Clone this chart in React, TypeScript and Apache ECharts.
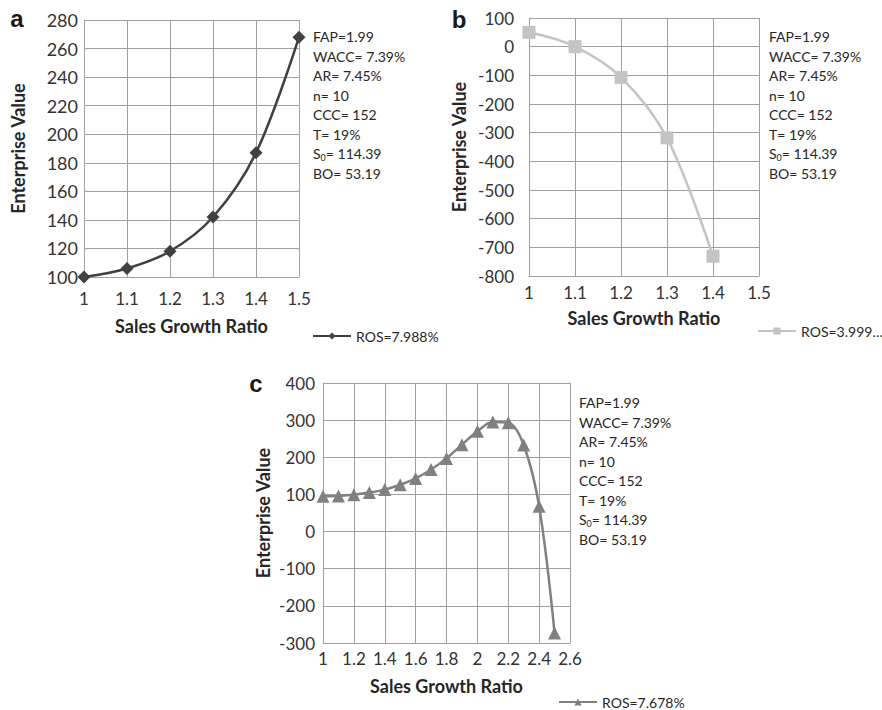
import React, { useEffect, useRef } from "react";
import * as echarts from "echarts";

const xA = [1, 1.1, 1.2, 1.3, 1.4, 1.5];
const evA = [100, 106, 118, 142, 187, 268];
const xB = [1, 1.1, 1.2, 1.3, 1.4];
const evB = [50, 0, -107, -318, -731];
const xC = [1, 1.1, 1.2, 1.3, 1.4, 1.5, 1.6, 1.7, 1.8, 1.9, 2, 2.1, 2.2, 2.3, 2.4, 2.5];
const evC = [95, 96, 99, 105, 113, 126, 143, 167, 197, 234, 270, 295, 293, 233, 68, -273];

const nameA = "ROS=7.988%";
const nameB = "ROS=3.999\u2026";
const nameC = "ROS=7.678%";

const paramText = "FAP=1.99\nWACC= 7.39%\nAR= 7.45%\nn= 10\nCCC= 152\nT= 19%\nS{sub|0}= 114.39\nBO= 53.19";

const FONT = "Lato";
const GRID_COLOR = "#a0a0a0";

function pairs(xs: number[], ys: number[]) {
  return xs.map((x, i) => [x, ys[i]]);
}

function xAxisCfg(gridIndex: number, min: number, max: number, interval: number, margin: number, nameGap: number, fontSize: number) {
  return {
    type: "value",
    gridIndex,
    min,
    max,
    interval,
    name: "Sales Growth Ratio",
    nameLocation: "middle",
    nameGap,
    nameTextStyle: { fontFamily: FONT, fontWeight: "bold", fontSize: 18, color: "#262626" },
    axisLine: { show: true, onZero: false, lineStyle: { color: GRID_COLOR, width: 1 } },
    axisTick: { show: false },
    axisLabel: { fontFamily: FONT, fontSize, color: "#333", margin, hideOverlap: false },
    splitLine: { show: true, lineStyle: { color: GRID_COLOR, width: 1 } },
  };
}

function yAxisCfg(gridIndex: number, min: number, max: number, interval: number, margin: number, nameGap: number, fontSize: number) {
  return {
    type: "value",
    gridIndex,
    min,
    max,
    interval,
    name: "Enterprise Value",
    nameLocation: "middle",
    nameGap,
    nameTextStyle: { fontFamily: FONT, fontWeight: "bold", fontSize: 18, color: "#262626" },
    axisLine: { show: true, onZero: false, lineStyle: { color: GRID_COLOR, width: 1 } },
    axisTick: { show: false },
    axisLabel: { fontFamily: FONT, fontSize, color: "#333", margin, hideOverlap: false },
    splitLine: { show: true, lineStyle: { color: GRID_COLOR, width: 1 } },
  };
}

function paramGraphic(x: number, y: number) {
  return {
    type: "text",
    x,
    y,
    style: {
      text: paramText,
      fontFamily: FONT,
      fontSize: 14,
      lineHeight: 19.5,
      fill: "#262626",
      verticalAlign: "top",
      align: "left",
      rich: {
        sub: { fontFamily: FONT, fontSize: 9, padding: [7, 0, 0, 0], fill: "#262626" },
      },
    },
  };
}

function letter(t: string, x: number, y: number) {
  return {
    type: "text",
    x,
    y,
    style: {
      text: t,
      fontFamily: "Liberation Sans",
      fontWeight: "bold",
      fontSize: 24,
      fill: "#1a1a1a",
      align: "center",
      verticalAlign: "middle",
    },
  };
}

function legendCfg(name: string, left: number, top: number) {
  return {
    data: [name],
    left,
    top,
    padding: 0,
    itemWidth: 38,
    itemHeight: 9,
    textStyle: { fontFamily: FONT, fontSize: 14, color: "#262626" },
    selectedMode: false,
  };
}

export default function App() {
  const ref = useRef<HTMLDivElement>(null);
  useEffect(() => {
    if (!ref.current) return;
    const chart = echarts.init(ref.current, undefined, { renderer: "svg" });
    chart.setOption({
      animation: false,
      backgroundColor: "#ffffff",
      grid: [
        { left: 84, top: 20, width: 215, height: 257 },
        { left: 529, top: 18, width: 230, height: 258 },
        { left: 323, top: 383, width: 247, height: 260 },
      ],
      xAxis: [
        xAxisCfg(0, 1, 1.5, 0.1, 13, 40, 17),
        xAxisCfg(1, 1, 1.5, 0.1, 8, 33, 17),
        xAxisCfg(2, 1, 2.6, 0.2, 7, 34, 17),
      ],
      yAxis: [
        yAxisCfg(0, 100, 280, 20, 6, 57, 18),
        yAxisCfg(1, -800, 100, 100, 15, 61, 17),
        yAxisCfg(2, -300, 400, 100, 8, 51, 17),
      ],
      legend: [
        legendCfg(nameA, 312, 329),
        legendCfg(nameB, 757, 324),
        legendCfg(nameC, 558, 695),
      ],
      series: [
        {
          type: "line",
          name: nameA,
          xAxisIndex: 0,
          yAxisIndex: 0,
          data: pairs(xA, evA),
          smooth: 0.35,
          clip: false,
          symbol: "diamond",
          symbolSize: 13,
          lineStyle: { color: "#404040", width: 2.5 },
          itemStyle: { color: "#404040" },
        },
        {
          type: "line",
          name: nameB,
          xAxisIndex: 1,
          yAxisIndex: 1,
          data: pairs(xB, evB),
          smooth: 0.35,
          clip: false,
          symbol: "rect",
          symbolSize: 13,
          lineStyle: { color: "#c4c4c4", width: 2.5 },
          itemStyle: { color: "#c4c4c4" },
        },
        {
          type: "line",
          name: nameC,
          xAxisIndex: 2,
          yAxisIndex: 2,
          data: pairs(xC, evC),
          smooth: 0.35,
          clip: false,
          symbol: "triangle",
          symbolSize: 13,
          lineStyle: { color: "#808080", width: 2.5 },
          itemStyle: { color: "#808080" },
        },
      ],
      graphic: [
        letter("a", 17, 18.6),
        letter("b", 459, 19.6),
        letter("c", 256, 383.6),
        paramGraphic(313, 27),
        paramGraphic(769, 27),
        paramGraphic(579, 393),
      ],
    });
    return () => chart.dispose();
  }, []);
  return (
    <div
      ref={ref}
      style={{ position: "fixed", left: 0, top: 0, width: 882, height: 710, background: "#fff" }}
    />
  );
}
